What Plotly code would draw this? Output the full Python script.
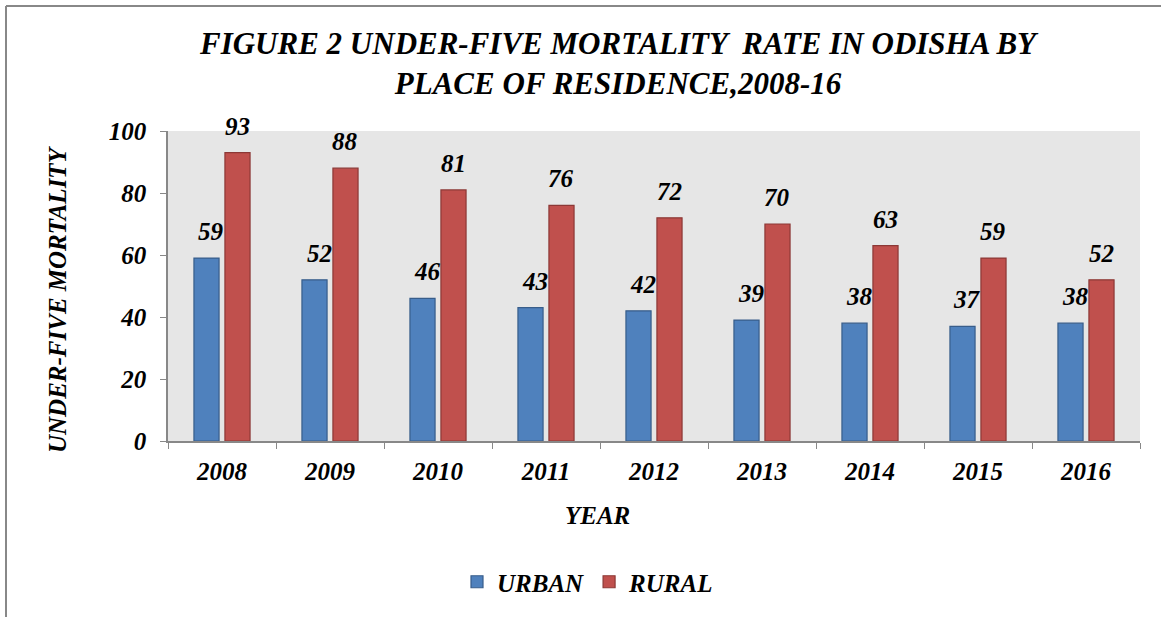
import plotly.graph_objects as go

years = ["2008", "2009", "2010", "2011", "2012", "2013", "2014", "2015", "2016"]
urban = [59, 52, 46, 43, 42, 39, 38, 37, 38]
rural = [93, 88, 81, 76, 72, 70, 63, 59, 52]
y_ticks = [0, 20, 40, 60, 80, 100]

FONT = "Liberation Serif, Times New Roman, serif"
BI = dict(family=FONT, weight="bold", style="italic", color="black")

fig = go.Figure()
fig.add_trace(go.Bar(x=years, y=urban, name="URBAN",
                     marker=dict(color="#4F81BD", line=dict(color="#385D8A", width=1.2))))
fig.add_trace(go.Bar(x=years, y=rural, name="RURAL",
                     marker=dict(color="#C0504D", line=dict(color="#8C3836", width=1.2))))

annotations = []
for i, yr in enumerate(years):
    # category index position (numeric strings would be read as indices)
    annotations.append(dict(x=i, y=urban[i], xref="x", yref="y", text=str(urban[i]),
                            showarrow=False, yanchor="bottom", xshift=-11, yshift=11,
                            font=dict(BI, size=25)))
    annotations.append(dict(x=i, y=rural[i], xref="x", yref="y", text=str(rural[i]),
                            showarrow=False, yanchor="bottom", xshift=15, yshift=11,
                            font=dict(BI, size=25)))

# axis titles
annotations.append(dict(x=(57 - 168) / 972, y=(441 - 299) / 310, xref="paper", yref="paper",
                        xanchor="center", yanchor="middle",
                        text="UNDER-FIVE MORTALITY", textangle=-90, showarrow=False,
                        font=dict(BI, size=25)))
annotations.append(dict(x=(597 - 168) / 972, y=(441 - 515) / 310, xref="paper", yref="paper",
                        xanchor="center", yanchor="middle",
                        text="YEAR", showarrow=False, font=dict(BI, size=25)))

fig.update_layout(
    width=1161, height=617,
    margin=dict(l=168, r=21, t=131, b=176),
    paper_bgcolor="white", plot_bgcolor="#E6E6E6",
    title=dict(text="FIGURE 2 UNDER-FIVE MORTALITY  RATE IN ODISHA BY<br>PLACE OF RESIDENCE,2008-16",
               x=618 / 1161, xanchor="center", y=1 - 54 / 617, yanchor="middle",
               font=dict(BI, size=31, lineposition="none")),
    barmode="group", bargap=0.426, bargroupgap=0.19,
    showlegend=True,
    legend=dict(orientation="h", x=(588 - 168) / 972, xanchor="center",
                y=(441 - 582) / 310, yanchor="middle", font=dict(BI, size=25),
                traceorder="normal"),
    annotations=annotations,
    shapes=[
        dict(type="line", xref="paper", yref="paper", x0=(6 - 168) / 972, x1=(6 - 168) / 972,
             y0=(441 - 6) / 310, y1=(441 - 617) / 310, line=dict(color="#888888", width=2)),
        dict(type="line", xref="paper", yref="paper", x0=(6 - 168) / 972, x1=(1161 - 168) / 972,
             y0=(441 - 6) / 310, y1=(441 - 6) / 310, line=dict(color="#888888", width=2)),
    ],
)
fig.update_xaxes(type="category", range=[-0.5, len(years) - 0.5], showgrid=False,
                 showline=True, linecolor="#888888", linewidth=1.5, ticks="outside",
                 tickson="boundaries", ticklen=6, tickcolor="#888888",
                 ticklabelstandoff=7, tickfont=dict(BI, size=25))
fig.update_yaxes(range=[0, 100], tickvals=y_ticks, showgrid=False, showline=True,
                 linecolor="#888888", linewidth=1.5, ticks="outside", ticklen=6,
                 tickcolor="#888888", ticklabelstandoff=9, tickfont=dict(BI, size=25),
                 zeroline=False)

fig.write_html("out.html", post_script="document.body.style.margin='0';",
               config={"displayModeBar": False})
